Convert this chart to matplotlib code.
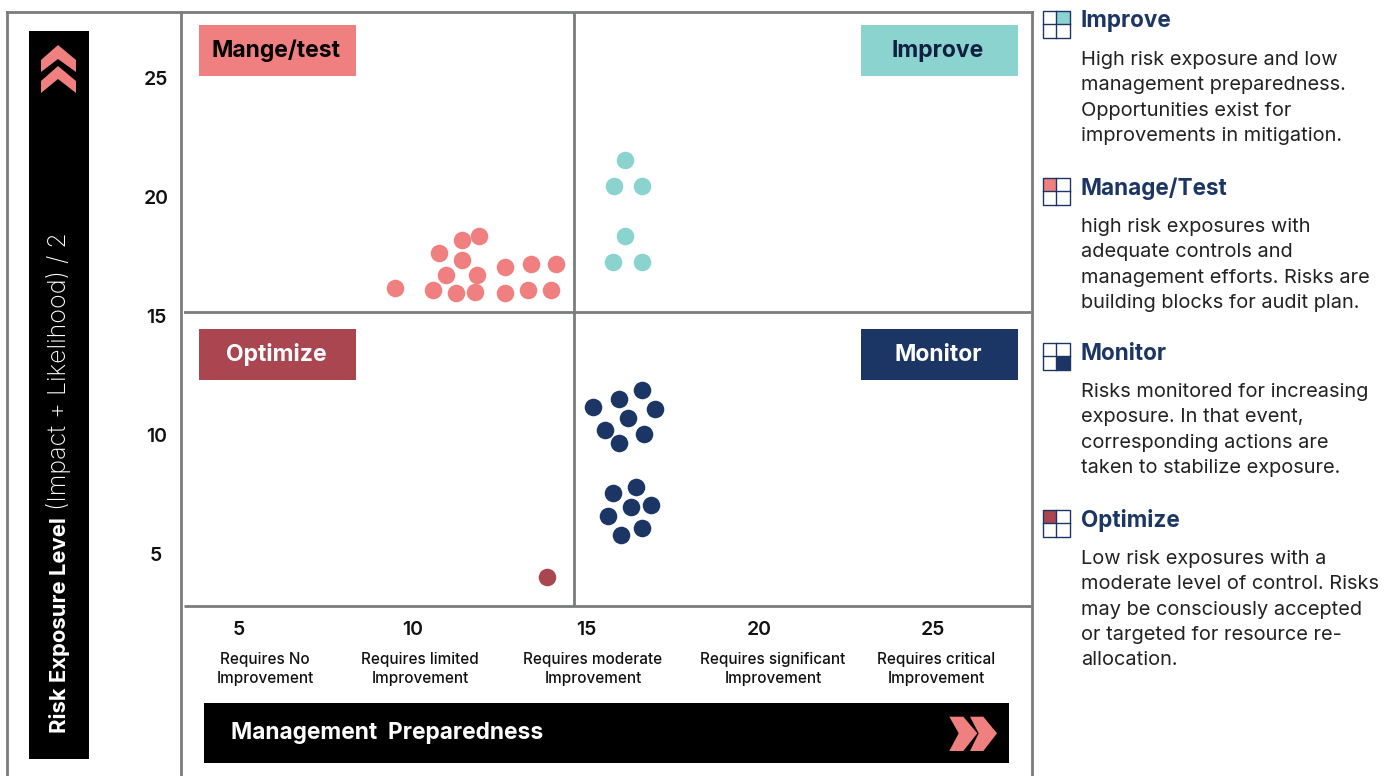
import matplotlib
matplotlib.use("Agg")
import matplotlib.pyplot as plt
from matplotlib.patches import Rectangle, Polygon

plt.rcParams["font.family"] = ["Inter", "Lato", "DejaVu Sans"]

W, H = 1397, 776
GRAY = "#7A7C7B"
PINK = "#F08080"
TEAL = "#8AD3CE"
RED = "#AA4650"
NAVY = "#1B3564"

# data
mg_x = [9.50, 10.58, 11.25, 11.81, 12.67, 13.32, 13.99, 10.97, 11.86, 11.42, 10.76, 11.42, 11.91, 12.67, 13.41, 14.14]
mg_y = [16.18, 16.09, 15.98, 16.00, 15.97, 16.09, 16.09, 16.71, 16.71, 17.37, 17.63, 18.18, 18.36, 17.07, 17.18, 17.18]
imp_x = [16.13, 15.80, 16.62, 16.12, 15.78, 16.61]
imp_y = [21.55, 20.47, 20.47, 18.36, 17.27, 17.27]
mon_x = [16.61, 15.95, 15.20, 16.99, 16.21, 15.55, 16.67, 15.95, 16.44, 15.78, 16.87, 16.30, 15.63, 16.61, 16.01]
mon_y = [11.89, 11.51, 11.18, 11.09, 10.71, 10.21, 10.04, 9.66, 7.82, 7.56, 7.06, 6.97, 6.60, 6.09, 5.80]
opt_x = [13.88]
opt_y = [4.03]

x_ticks = [5, 10, 15, 20, 25]
y_ticks = [5, 10, 15, 20, 25]
x_notes = ["Requires No\nImprovement", "Requires limited\nImprovement", "Requires moderate\nImprovement",
           "Requires significant\nImprovement", "Requires critical\nImprovement"]
note_px = [265, 420, 593, 773, 936]

legend_items = [
    ("Improve", TEAL, (1, 0), 11, ["High risk exposure and low", "management preparedness.",
                                   "Opportunities exist for", "improvements in mitigation."]),
    ("Manage/Test", PINK, (0, 0), 178, ["high risk exposures with", "adequate controls and",
                                        "management efforts. Risks are", "building blocks for audit plan."]),
    ("Monitor", NAVY, (1, 1), 343, ["Risks monitored for increasing", "exposure. In that event,",
                                    "corresponding actions are", "taken to stabilize exposure."]),
    ("Optimize", RED, (0, 0), 510, ["Low risk exposures with a", "moderate level of control. Risks",
                                    "may be consciously accepted", "or targeted for resource re-", "allocation."]),
]

fig = plt.figure(figsize=(W / 100, H / 100), dpi=100, facecolor="white")

# background layer in pixel units, for frame and labels
bg = fig.add_axes([0, 0, 1, 1])
bg.set_xlim(0, W)
bg.set_ylim(H, 0)
bg.axis("off")

for xs, ys in [([7, 1032], [12, 12]), ([7, 7], [12, 776]), ([181, 181], [12, 776]), ([1032, 1032], [12, 776])]:
    bg.plot(xs, ys, color=GRAY, lw=2, solid_capstyle="projecting")

# black bars
bg.add_patch(Rectangle((29, 31), 60, 728, color="black", lw=0))
bg.add_patch(Rectangle((204, 703), 805, 60, color="black", lw=0))
bg.text(59, 733, "Risk Exposure Level", rotation=90, ha="center", va="bottom", color="white",
        fontsize=15.9, fontweight="bold")
bg.text(59, 510, "(Impact + Likelihood) / 2", rotation=90, ha="center", va="bottom", color="white",
        fontsize=18, fontweight="light")
bg.text(231, 733, "Management  Preparedness", ha="left", va="center", color="white", fontsize=16.4, fontweight="bold")

# chevrons
bg.add_patch(Polygon([(58, 45), (76, 60), (76, 72), (58, 59), (41, 72), (41, 60)], color=PINK, lw=0))
bg.add_patch(Polygon([(58, 66), (76, 81), (76, 93), (58, 79), (41, 93), (41, 81)], color=PINK, lw=0))
bg.add_patch(Polygon([(949.3, 716.7), (963.3, 716.7), (977.3, 733.3), (963.3, 751), (949.3, 751), (958.7, 733.3)], color=PINK, lw=0))
bg.add_patch(Polygon([(970, 716.7), (983.3, 716.7), (997, 733.3), (983.3, 751), (970, 751), (978.7, 733.3)], color=PINK, lw=0))

# quadrant labels
for (x0, y0, label, col, tc) in [(199, 25, "Mange/test", PINK, "black"), (861, 25, "Improve", TEAL, "#102040"),
                                 (199, 329, "Optimize", RED, "white"), (861, 329, "Monitor", NAVY, "white")]:
    bg.add_patch(Rectangle((x0, y0), 157, 51, color=col, lw=0, zorder=3))
    bg.text(x0 + 77, y0 + 26, label, ha="center", va="center", color=tc, fontsize=16.5, fontweight="bold", zorder=4)

for xp, note in zip(note_px, x_notes):
    bg.text(xp, 669, note, ha="center", va="center", fontsize=11, fontweight="medium", color="#111111", linespacing=1.4)

# side legend
for title, col, (cx, cy), y0, lines in legend_items:
    s = 13.3
    bg.add_patch(Rectangle((1043 + cx * s, y0 + cy * s), s, s, color=col, lw=0))
    bg.add_patch(Rectangle((1043, y0), 2 * s, 2 * s, fill=False, ec=NAVY, lw=1))
    bg.plot([1043 + s, 1043 + s], [y0, y0 + 2 * s], color=NAVY, lw=1)
    bg.plot([1043, 1043 + 2 * s], [y0 + s, y0 + s], color=NAVY, lw=1)
    bg.text(1081, y0 + 10.5, title, ha="left", va="center", color=NAVY, fontsize=16.2, fontweight="bold")
    for i, line in enumerate(lines):
        bg.text(1081, y0 + 49 + i * 25.3, line, ha="left", va="center", color="#222222", fontsize=14.4)

# scatter axes: 184..1031 px, 12..606 px
ax = fig.add_axes([184 / W, 1 - 606 / H, (1031 - 184) / W, (606 - 12) / H])
ax.patch.set_alpha(0)
ax.set_xlim(3.415, 27.82)
ax.set_ylim(2.815, 27.77)
for s in ["top", "left", "right"]:
    ax.spines[s].set_visible(False)
ax.spines["bottom"].set_color(GRAY)
ax.spines["bottom"].set_linewidth(2)
ax.spines["bottom"].set_capstyle("butt")
ax.axvline(14.654, color=GRAY, lw=2, zorder=1)
ax.axhline(15.17, color=GRAY, lw=2, zorder=1)

for xs, ys, col in [(mg_x, mg_y, PINK), (imp_x, imp_y, TEAL), (mon_x, mon_y, NAVY), (opt_x, opt_y, RED)]:
    ax.scatter(xs, ys, s=160, color=col, linewidths=0, zorder=3, clip_on=False)

ax.set_xticks(x_ticks)
ax.set_yticks(y_ticks)
ax.tick_params(axis="x", length=0, pad=11, labelsize=14)
ax.tick_params(axis="y", length=0, pad=20, labelsize=14)
for lab in ax.get_xticklabels() + ax.get_yticklabels():
    lab.set_fontweight("semibold")
    lab.set_color("#111111")
for lab in ax.get_yticklabels():
    lab.set_ha("center")

fig.savefig("out.png", dpi=100, facecolor="white")
